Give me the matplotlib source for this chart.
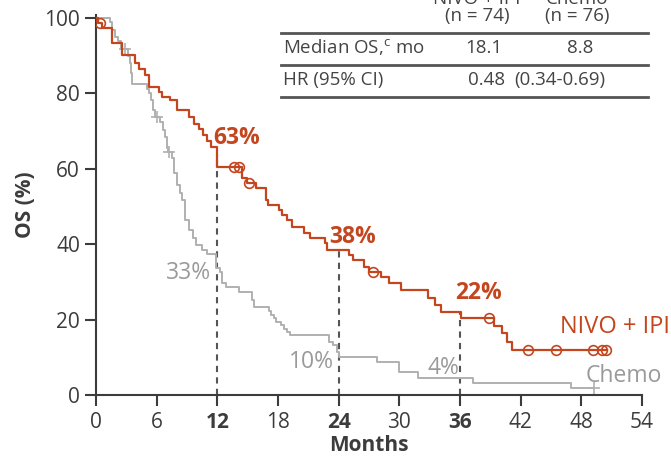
import matplotlib
matplotlib.use("Agg")
import matplotlib.pyplot as plt
from matplotlib.lines import Line2D

plt.rcParams['font.family'] = ['Open Sans', 'DejaVu Sans']

RED = '#c4461f'
GRAY = '#b0b0b0'
GRAY_TXT = '#9a9a9a'
DARK = '#3c3c3c'

# NIVO + IPI step curve (months, OS %)
nivo_t = [0, 0.2, 0.6, 1.55, 2.6, 3.9, 4.3, 4.8, 5.2, 6.2, 6.5, 7.3, 8.0, 9.2, 9.7,
          10.2, 10.6, 11.0, 11.4, 12.0, 14.4, 14.9, 15.8, 16.8, 17.0, 18.1, 18.4,
          18.9, 19.4, 20.6, 21.2, 22.6, 22.8, 25.0, 25.4, 26.5, 27.0, 28.2, 29.0,
          30.2, 32.8, 33.5, 34.1, 36.1, 39.4, 40.2, 40.6, 41.1, 50.5]
nivo_s = [100, 98.6, 97.3, 93.3, 90.2, 88.0, 86.5, 84.9, 81.8, 80.5, 79.0, 78.2, 75.6,
          73.8, 72.0, 70.5, 69.0, 67.5, 65.9, 60.6, 57.5, 56.2, 54.8, 51.7, 50.4,
          49.0, 47.7, 46.4, 44.6, 43.0, 41.6, 40.2, 38.5, 37.1, 35.8, 34.0, 32.7,
          31.4, 29.6, 27.9, 25.6, 23.9, 22.1, 20.3, 18.3, 16.4, 14.1, 11.9, 11.9]
nivo_cens_t = [0.4, 13.6, 14.1, 15.1, 27.4, 38.9, 42.7, 45.5, 49.2, 50.0, 50.4]
nivo_cens_s = [98.6, 60.6, 60.6, 56.2, 32.7, 20.3, 11.9, 11.9, 11.9, 11.9, 11.9]

# Chemo step curve
chemo_t = [0, 1.4, 1.55, 1.9, 2.2, 2.5, 3.2, 3.4, 3.45, 3.55, 5.0, 5.2, 5.4, 5.6, 5.8,
           6.3, 6.6, 6.8, 7.0, 7.1, 7.5, 7.7, 8.0, 8.3, 8.5, 8.8, 9.2, 9.6, 9.9,
           10.5, 11.0, 11.9, 12.3, 12.5, 12.9, 14.1, 15.4, 15.6, 17.1, 17.3, 17.6,
           17.8, 18.3, 18.6, 18.9, 19.2, 23.0, 23.4, 23.8, 24.0, 27.8, 30.0, 31.8,
           37.3, 47.0, 49.3]
chemo_s = [100, 99.0, 96.8, 95.0, 93.8, 91.7, 89.8, 88.0, 85.5, 82.6, 81.3, 80.0, 78.2,
           75.6, 73.8, 72.5, 70.3, 68.5, 65.4, 64.5, 62.8, 58.8, 55.7, 53.5, 51.7,
           46.4, 43.8, 41.6, 39.8, 38.5, 37.5, 33.6, 32.7, 29.6, 28.7, 27.4, 25.2,
           23.4, 22.3, 21.2, 20.3, 19.4, 18.5, 17.5, 16.8, 15.9, 14.1, 13.3, 11.5,
           10.2, 8.8, 6.2, 4.4, 3.1, 1.8, 1.8]
chemo_cens_t = [2.9, 6.0, 7.2, 49.3]
chemo_cens_s = [91.7, 73.8, 64.5, 1.8]

landmarks = [12, 24, 36]
landmark_nivo = [63, 38.5, 22]
nivo_lbl = ['63%', '38%', '22%']
chemo_lbl = ['33%', '10%', '4%']

xticks = [0, 6, 12, 18, 24, 30, 36, 42, 48, 54]
yticks = [0, 20, 40, 60, 80, 100]

fig = plt.figure(figsize=(6.71, 4.61), dpi=100)
ax = fig.add_axes([96 / 671, 66 / 461, 546 / 671, 380 / 461])

ax.step(chemo_t, chemo_s, where='post', color=GRAY, lw=1.4, zorder=2)
ax.plot(chemo_cens_t, chemo_cens_s, ls='none', marker='+', ms=8, mew=1.2,
        color=GRAY, zorder=2)
ax.step(nivo_t, nivo_s, where='post', color=RED, lw=1.6, zorder=3)
ax.plot(nivo_cens_t, nivo_cens_s, ls='none', marker='o', ms=7, mfc='none',
        mew=1.2, color=RED, zorder=3)

for x, top in zip(landmarks, landmark_nivo):
    ax.plot([x, x], [0, top], ls=(0, (3, 2.5)), color='#555555', lw=1.5, zorder=1)

# percentage annotations
pct_fs = 16.5
ax.text(11.6, 68.3, nivo_lbl[0], color=RED, fontsize=pct_fs, fontweight='bold', va='center')
ax.text(23.1, 41.8, nivo_lbl[1], color=RED, fontsize=pct_fs, fontweight='bold', va='center')
ax.text(35.5, 27.0, nivo_lbl[2], color=RED, fontsize=pct_fs, fontweight='bold', va='center')
ax.text(11.4, 32.3, chemo_lbl[0], color=GRAY_TXT, fontsize=pct_fs, ha='right', va='center')
ax.text(23.5, 8.7, chemo_lbl[1], color=GRAY_TXT, fontsize=pct_fs, ha='right', va='center')
ax.text(35.9, 7.1, chemo_lbl[2], color=GRAY_TXT, fontsize=pct_fs, ha='right', va='center')
ax.text(45.9, 18.0, 'NIVO + IPI', color=RED, fontsize=17, va='center', clip_on=False)
ax.text(48.4, 5.0, 'Chemo', color=GRAY_TXT, fontsize=16.5, va='center', clip_on=False)

ax.set_xlim(0, 54)
ax.set_ylim(0, 100.8)
ax.set_xticks(xticks)
ax.set_yticks(yticks)
ax.set_xticklabels([str(v) for v in xticks])
for lbl, v in zip(ax.get_xticklabels(), xticks):
    if v in landmarks:
        lbl.set_fontweight('bold')
ax.tick_params(direction='out', length=8, width=1.5, colors=DARK, labelsize=15)
ax.tick_params(axis='x', pad=4)
for s in ['top', 'right']:
    ax.spines[s].set_visible(False)
for s in ['left', 'bottom']:
    ax.spines[s].set_linewidth(1.5)
    ax.spines[s].set_color(DARK)
ax.set_xlabel('Months', fontsize=15, fontweight='bold', color=DARK, labelpad=2)
ax.set_ylabel('OS (%)', fontsize=15, fontweight='bold', color=DARK, labelpad=6)

# summary table, top right
def fx(px):
    return px / 671

def fy(py):
    return 1 - py / 461

tcol = '#444444'
tfs = 13.5
fig.text(fx(477), fy(-1), 'NIVO + IPI', ha='center', va='center', fontsize=tfs, color=tcol)
fig.text(fx(477), fy(16), '(n = 74)', ha='center', va='center', fontsize=tfs, color=tcol)
fig.text(fx(577), fy(-1), 'Chemo', ha='center', va='center', fontsize=tfs, color=tcol)
fig.text(fx(577), fy(16), '(n = 76)', ha='center', va='center', fontsize=tfs, color=tcol)
fig.text(fx(283), fy(48), 'Median OS,$^{\\mathregular{c}}$ mo', ha='left', va='center',
         fontsize=tfs, color=tcol)
fig.text(fx(484), fy(48), '18.1', ha='center', va='center', fontsize=tfs, color=tcol)
fig.text(fx(580), fy(48), '8.8', ha='center', va='center', fontsize=tfs, color=tcol)
fig.text(fx(283), fy(80), 'HR (95% CI)', ha='left', va='center', fontsize=tfs, color=tcol)
fig.text(fx(468), fy(80), '0.48', ha='left', va='center', fontsize=tfs, color=tcol)
fig.text(fx(514), fy(80), '(0.34-0.69)', ha='left', va='center', fontsize=tfs,
         color=tcol)
for yy in [33, 65, 97]:
    fig.add_artist(Line2D([fx(281), fx(648)], [fy(yy), fy(yy)], color='#555555', lw=2))

fig.savefig('out.png', dpi=100)
